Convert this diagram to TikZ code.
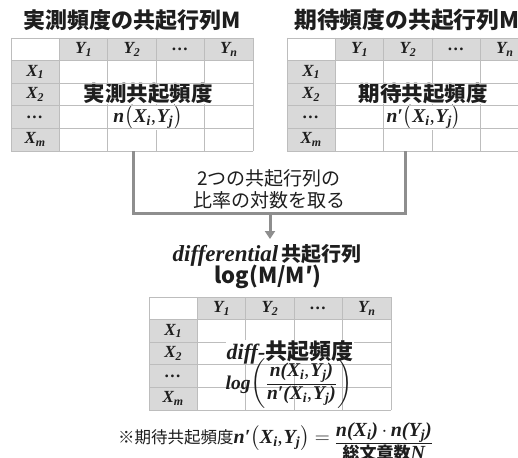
\documentclass[tikz,border=0pt]{standalone}
\usepackage{amsmath}
\usepackage{fontspec}
\setmainfont{Liberation Serif}
\newfontfamily\jp{Noto Sans CJK JP}
\newfontfamily\tnr{Liberation Serif}
\usetikzlibrary{arrows.meta}
\definecolor{hdr}{HTML}{D9D9D9}
\definecolor{gridc}{HTML}{BDBDBD}
\definecolor{brkc}{HTML}{8E8E8E}
\definecolor{ink}{HTML}{1E1E1E}
\newcommand\bi[1]{{\tnr\bfseries\itshape #1}}
\newcommand\vb[2]{{\tnr\bfseries\itshape #1\textsubscript{#2}}}
\newcommand\nxyB[1]{\bi{#1}$\bigl($\vb{X}{i},\kern1pt\vb{Y}{j}$\bigr)$}
\newcommand\nxyS[1]{\bi{#1(}\vb{X}{i},\kern1pt\vb{Y}{j}\bi{)}}
\newcommand\fs[1]{\fontsize{#1}{#1}\selectfont}
\tikzset{
  hd/.style={font=\tnr\bfseries\itshape\fs{17}, text=ink, inner sep=0pt},
  ttl/.style={font=\jp\bfseries\fs{22}, text=ink, inner sep=0pt},
  cell/.style={fill=white, inner sep=0pt, inner xsep=1pt, text=ink},
  gl/.style={draw=gridc, line width=0.9pt},
  brk/.style={draw=brkc, line width=3pt},
}
\newcommand\mtab[3]{%
\begin{scope}[shift={(#2,#3)}]
\fill[hdr] (48.4,0) rectangle (242,22.6);
\fill[hdr] (0,22.6) rectangle (48.4,113);
\foreach \i in {0,...,5}{\draw[gl] (\i*48.4,0) -- (\i*48.4,113);}
\foreach \j in {0,...,5}{\draw[gl] (0,\j*22.6) -- (242,\j*22.6);}
\node[hd] (#1-y1) at (72.6,11.3) {\vb{Y}{1}};
\node[hd] (#1-y2) at (121,11.3) {\vb{Y}{2}};
\node[hd] (#1-yd) at (169.4,11.3) {\bi{\ldots}};
\node[hd] (#1-yn) at (217.8,11.3) {\vb{Y}{n}};
\node[hd] (#1-x1) at (24.2,33.9) {\vb{X}{1}};
\node[hd] (#1-x2) at (24.2,56.5) {\vb{X}{2}};
\node[hd] (#1-xd) at (24.2,79.1) {\bi{\ldots}};
\node[hd] (#1-xm) at (24.2,101.7) {\vb{X}{m}};
\end{scope}}
\newcommand\hlines[2]{%
\begin{scope}[shift={(#1,#2)}]
\foreach \j in {0,...,5}{\draw[gl] (0,\j*22.6) -- (242,\j*22.6);}
\end{scope}}
\begin{document}
\begin{tikzpicture}[x=1pt,y=-1pt]
\useasboundingbox (0,0) rectangle (518,457);
\clip (0,0) rectangle (518,457);
\fill[white] (0,0) rectangle (518,457);

% titles
\node[ttl] (tL) at (132.5,20) {実測頻度の共起行列M};
\node[ttl, anchor=west, font=\jp\bfseries\fs{22.8}] (tR) at (294,20) {期待頻度の共起行列M′};

% left table
\mtab{L}{11}{38}
\node[cell, font=\jp\bfseries\fs{21.5}] (L-t) at (148,94) {実測共起頻度};
\node[cell, font=\fs{19.5}] (L-f) at (148,117.5) {\nxyB{n}};
\hlines{11}{38}

% right table
\mtab{R}{287}{38}
\node[cell, font=\jp\bfseries\fs{21.5}] (R-t) at (423,94) {期待共起頻度};
\node[cell, font=\fs{19.5}] (R-f) at (424,117.5) {\nxyB{n′}};
\hlines{287}{38}

% bracket
\coordinate (Lb) at (133,151);
\coordinate (Rb) at (405,151);
\coordinate (c1) at (133,213);
\coordinate (c2) at (405,213);
\coordinate (mid) at (270,213);
\draw[brk] (Lb) -- (c1) -- (c2) -- (Rb);
\node[font=\jp\fontsize{19}{22}\selectfont, align=center, text=ink, inner sep=0pt] (brtext) at (269,189) {2つの共起行列の\\比率の対数を取る};

% differential title
\node[text=ink, inner sep=0pt] (dT) at (267,255) {{\fs{23}\bi{differential}}\hspace{3pt}{\jp\bfseries\fs{20}共起行列}};
\node[ttl] (dL) at (268,277) {log(M/M′)};
\draw[brk, -{Triangle[width=10pt,length=8pt]}] (mid) -- (270,239);

% bottom table
\mtab{D}{149}{297}
\node[cell, font=\fs{22}] (dd) at (290,352) {\bi{diff-}{\jp\bfseries 共起頻度}};
\node[inner sep=1pt, font=\fs{19.5}, text=ink] (fr) at (289,384) {\bi{log}$\left(\genfrac{}{}{1pt}{}{\hbox{\nxyS{n}}}{\hbox{\nxyS{n′}}}\right)$};

% note
\node[anchor=base west, font=\fs{20}, text=ink, inner sep=0pt] (note) at (118,443) {{\jp\fs{16.5}※期待共起頻度}\nxyB{n′}\hspace{5pt}$=$\hspace{5pt}\raisebox{-6pt}{$\genfrac{}{}{0.9pt}{}{\hbox{\bi{n(}\vb{X}{i}\bi{)}$\,\cdot\,$\bi{n(}\vb{Y}{j}\bi{)}}}{\hbox{{\jp\bfseries\fs{17}総文章数}\bi{N}}}$}};
\end{tikzpicture}
\end{document}
